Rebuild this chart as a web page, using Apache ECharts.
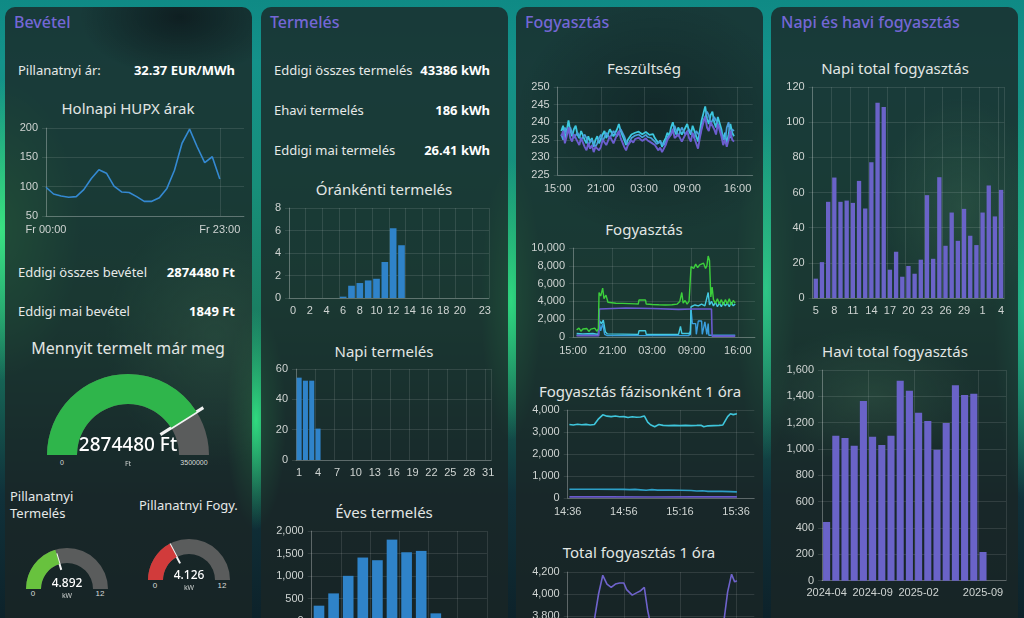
<!DOCTYPE html>
<html>
<head>
<meta charset="UTF-8">
<title>Napelem</title>
<script src="https://cdn.jsdelivr.net/npm/echarts@6/dist/echarts.min.js"></script>
<style>
html, body { margin: 0; width: 1024px; height: 618px; overflow: hidden; }
body {
  position: relative;
  font-family: 'Noto Sans', sans-serif;
  color: #e8ebea;
  background:
    radial-gradient(ellipse 80px 150px at 0px 230px, rgba(60,230,130,0.95), rgba(60,230,130,0) 100%),
    radial-gradient(ellipse 30px 110px at 256px 420px, rgba(50,225,130,0.95), rgba(50,225,130,0) 100%),
    radial-gradient(ellipse 30px 140px at 511px 300px, rgba(50,225,130,0.9), rgba(50,225,130,0) 100%),
    radial-gradient(ellipse 30px 170px at 766px 290px, rgba(50,210,140,0.85), rgba(50,210,140,0) 100%),
    radial-gradient(ellipse 30px 200px at 1024px 300px, rgba(40,200,150,0.8), rgba(40,200,150,0) 100%),
    linear-gradient(180deg, #0f8a85 0%, #14928a 10%, #178f7a 30%, #1a7f63 50%, #155a50 65%, #10313a 80%, #0d222a 100%);
}
.card { position: absolute; top: 7px; width: 247px; height: 640px; border-radius: 10px; background: rgba(26,38,38,0.8); }
#c1 { left: 5px; background:
    radial-gradient(ellipse 100px 60px at 175px 10px, rgba(12,22,26,0.75), rgba(12,22,26,0) 100%),
    radial-gradient(ellipse 110px 130px at 210px 330px, rgba(70,120,90,0.25), rgba(70,120,90,0) 100%),
    rgba(26,38,38,0.8); }
#c2 { left: 261px; }
#c3 { left: 516px; background:
    radial-gradient(ellipse 140px 120px at 140px 110px, rgba(12,22,26,0.5), rgba(12,22,26,0) 100%),
    rgba(26,38,38,0.8); }
#c4 { left: 771px; background:
    radial-gradient(ellipse 80px 110px at 190px 200px, rgba(70,120,90,0.3), rgba(70,120,90,0) 100%),
    radial-gradient(ellipse 110px 70px at 100px 390px, rgba(70,120,90,0.28), rgba(70,120,90,0) 100%),
    rgba(26,38,38,0.8); }
.h { position: absolute; transform: translateY(-50%); font-size: 16px; font-weight: 500; color: #7467d6; white-space: nowrap; }
.l { position: absolute; transform: translateY(-50%); font-size: 13px; color: #e6e9e8; white-space: nowrap; }
.v { position: absolute; transform: translateY(-50%); font-size: 13px; font-weight: 700; color: #ffffff; white-space: nowrap; text-align: right; }
.t { position: absolute; transform: translate(-50%, -50%); font-size: 15px; color: #e2e6e4; white-space: nowrap; }
.g { position: absolute; transform: translate(-50%, -50%); font-size: 8px; color: #d8dcda; white-space: nowrap; font-family: 'Liberation Sans', Arial, sans-serif; }
#chart { position: absolute; left: 0; top: 0; width: 1024px; height: 700px; }
</style>
</head>
<body>
<div class="card" id="c1"></div>
<div class="card" id="c2"></div>
<div class="card" id="c3"></div>
<div class="card" id="c4"></div>

<div class="h" style="left:14px;top:22px">Bevétel</div>
<div class="h" style="left:270px;top:22px">Termelés</div>
<div class="h" style="left:525px;top:22px">Fogyasztás</div>
<div class="h" style="left:781px;top:22px">Napi és havi fogyasztás</div>

<div class="l" style="left:18px;top:70px">Pillanatnyi ár:</div>
<div class="v" style="right:789px;top:70px">32.37 EUR/MWh</div>
<div class="l" style="left:18px;top:272px">Eddigi összes bevétel</div>
<div class="v" style="right:789px;top:272px">2874480 Ft</div>
<div class="l" style="left:18px;top:311px">Eddigi mai bevétel</div>
<div class="v" style="right:789px;top:311px">1849 Ft</div>

<div class="l" style="left:274px;top:70px">Eddigi összes termelés</div>
<div class="v" style="right:534px;top:70px">43386 kWh</div>
<div class="l" style="left:274px;top:110px">Ehavi termelés</div>
<div class="v" style="right:534px;top:110px">186 kWh</div>
<div class="l" style="left:274px;top:150px">Eddigi mai termelés</div>
<div class="v" style="right:534px;top:150px">26.41 kWh</div>

<div class="t" style="left:128px;top:108px">Holnapi HUPX árak</div>
<div class="t" style="left:128px;top:348px;font-size:16px">Mennyit termelt már meg</div>
<div class="l" style="left:10px;top:505px;line-height:17px">Pillanatnyi<br>Termelés</div>
<div class="l" style="left:139px;top:505px">Pillanatnyi Fogy.</div>

<div class="g" style="left:62px;top:462px;font-size:7px">0</div>
<div class="g" id="goalLbl" style="left:194px;top:462px;font-size:7px"></div>
<div class="g" style="left:33px;top:593px">0</div>
<div class="g pmax" style="left:100px;top:593px"></div>
<div class="g" style="left:155px;top:585px">0</div>
<div class="g pmax" style="left:222px;top:585px"></div>

<div class="t" style="left:384px;top:189px">Óránkénti termelés</div>
<div class="t" style="left:384px;top:351px">Napi termelés</div>
<div class="t" style="left:384px;top:512px">Éves termelés</div>

<div class="t" style="left:644px;top:68px">Feszültség</div>
<div class="t" style="left:644px;top:229px">Fogyasztás</div>
<div class="t" style="left:640px;top:391px">Fogyasztás fázisonként 1 óra</div>
<div class="t" style="left:639px;top:552px">Total fogyasztás 1 óra</div>

<div class="t" style="left:895px;top:68px">Napi total fogyasztás</div>
<div class="t" style="left:895px;top:351px">Havi total fogyasztás</div>

<div id="chart"></div>

<script>
// ---- Bevétel ----
var hupxHours = [0, 1, 2, 3, 4, 5, 6, 7, 8, 9, 10, 11, 12, 13, 14, 15, 16, 17, 18, 19, 20, 21, 22, 23];
var hupxPrice = [99, 87.5, 84, 82, 83, 95, 114, 129, 123, 101, 91, 90, 83, 75, 75, 81, 97, 128, 174, 198, 168, 141, 151, 113];
var incomeTotal = 2874480;
var incomeGoal = 3500000;
var prodNow = 4.892;
var consNow = 4.126;
var powerMax = 12;

// ---- Termelés ----
var hourCats = ['0', '1', '2', '3', '4', '5', '6', '7', '8', '9', '10', '11', '12', '13', '14', '15', '16', '17', '18', '19', '20', '21', '22', '23'];
var hourProd = [0, 0, 0, 0, 0, 0, 0.12, 1.09, 1.33, 1.56, 1.71, 3.2, 6.2, 4.69];
var dayCats = ['1', '2', '3', '4', '5', '6', '7', '8', '9', '10', '11', '12', '13', '14', '15', '16', '17', '18', '19', '20', '21', '22', '23', '24', '25', '26', '27', '28', '29', '30', '31'];
var dayProd = [54.3, 52.3, 52.3, 20.7];
var monthCats = ['01', '02', '03', '04', '05', '06', '07', '08', '09', '10', '11', '12'];
var monthProd = [346, 618, 1007, 1412, 1353, 1809, 1529, 1559, 176];

// ---- Feszültség (órák 15:00-tól) ----
var vTime = [0.5, 0.75, 1, 1.25, 1.5, 1.75, 2, 2.25, 2.5, 2.75, 3, 3.25, 3.5, 3.75, 4, 4.25, 4.5, 4.75, 5, 5.25, 5.5, 5.75, 6, 6.25, 6.5, 6.75, 7, 7.25, 7.5, 7.75, 8, 8.25, 8.5, 8.75, 9, 9.25, 9.5, 9.75, 10, 10.25, 10.5, 10.75, 11, 11.25, 11.5, 11.75, 12, 12.25, 12.5, 12.75, 13, 13.25, 13.5, 13.75, 14, 14.25, 14.5, 14.75, 15, 15.25, 15.5, 15.75, 16, 16.25, 16.5, 16.75, 17, 17.25, 17.5, 17.75, 18, 18.25, 18.5, 18.75, 19, 19.25, 19.5, 19.75, 20, 20.25, 20.5, 20.75, 21, 21.25, 21.5, 21.75, 22, 22.25, 22.5, 22.75, 23, 23.25, 23.5, 23.75, 24, 24.25, 24.5];
var voltA = [237.5, 239, 235, 237.5, 240.5, 237.5, 236, 238, 239, 236.5, 235.5, 237.5, 237, 235, 234, 236, 234.5, 235.5, 233, 235, 236, 234, 234.5, 236.5, 237.5, 235.5, 236, 238, 238.5, 236, 236.5, 238, 239.5, 237.5, 237, 235, 233.5, 235, 235.5, 236.5, 236, 237, 236.5, 237.3, 237, 236.6, 236.5, 237.2, 236.8, 236.4, 236.2, 236.6, 235.5, 235, 234, 234.8, 233, 234.5, 235.5, 237, 236, 238.5, 240, 237.5, 236.5, 238.5, 239, 236.5, 237, 238.5, 239.5, 237.5, 236.5, 239, 238.5, 236, 234.5, 237.5, 240.5, 242.5, 244.5, 241, 239.5, 242, 243, 240, 238.5, 241.5, 242, 238, 235, 237, 234, 236.5, 239.5, 237, 236];
var voltB = [236.5, 235, 238.5, 236.5, 236, 238.5, 238, 235.5, 235, 237, 237.5, 235, 234.5, 236.5, 235.5, 233.5, 233, 235, 234.5, 233, 234, 235.5, 236.5, 234.5, 235, 237, 237.5, 235.5, 235.5, 237.5, 238, 236, 236, 238, 238.5, 236, 234.5, 233.5, 234.5, 235.5, 235.5, 236.2, 235.8, 236.5, 236.2, 235.7, 236, 236.4, 235.8, 235.3, 235.5, 235, 234.5, 233.8, 233.5, 234.5, 234, 233.5, 234.5, 235.8, 235.5, 236.5, 237, 239, 238.5, 236, 236.5, 238.5, 238.5, 236.5, 236, 238, 238.5, 236.5, 235.5, 237.5, 237, 236, 238.5, 240.5, 241.5, 243, 242, 239.5, 239.5, 241.5, 242, 239.5, 238.5, 237, 236.5, 234.5, 238.5, 240, 235.5, 238, 237.5];
var voltC = [236, 237.5, 234, 236, 238.5, 235.5, 234.5, 236.5, 237, 234.5, 233.5, 235.5, 235, 233, 232, 234, 232.5, 233.5, 231.5, 233, 233.5, 232, 233, 235, 235.5, 233.5, 234, 236, 236.5, 234, 234.5, 236.5, 237.5, 235.5, 235, 233, 232, 233.5, 233.5, 234.8, 234.2, 235.2, 234.8, 235.6, 235.2, 234.7, 235, 235.4, 234.8, 234.4, 234.2, 234.6, 233.5, 233, 232, 232.8, 231.5, 232.5, 233.5, 235, 234.5, 236.5, 238, 235.5, 235, 236.5, 237, 234.5, 235, 236.5, 237.5, 235.5, 234.5, 237, 236.5, 234, 232.5, 235.5, 238, 240, 241.5, 238.5, 237.5, 240, 240.5, 238, 236.5, 239.5, 239.5, 236, 233.5, 235, 233, 235, 237.5, 235, 234.5];

// ---- Fogyasztás (W), [óra 15:00-tól, érték] ----
var consTotal = [[0.55, 800], [0.9, 1000], [1.2, 650], [1.5, 900], [1.8, 700], [2.1, 950], [2.4, 620], [2.7, 880], [3.0, 700], [3.3, 1000], [3.6, 650], [3.85, 900], [3.95, 5000], [4.2, 4600], [4.5, 5500], [4.7, 4300], [5.0, 4700], [5.3, 3900], [5.6, 3850], [6.5, 3800], [7.5, 3780], [8.5, 3750], [9.5, 3720], [9.9, 3700], [10.0, 4150], [11.0, 4150], [11.1, 3700], [12, 3650], [13, 3620], [14, 3600], [15, 3620], [15.8, 3700], [16.2, 4000], [16.5, 5000], [16.7, 3800], [17.0, 4100], [17.3, 3700], [17.6, 4000], [17.8, 3800], [17.9, 7900], [18.3, 7700], [18.6, 8200], [18.9, 7800], [19.2, 8100], [19.5, 7900], [19.8, 8300], [20.1, 7700], [20.3, 8000], [20.5, 9100], [20.7, 8600], [20.9, 4500], [21.1, 5600], [21.3, 4200], [21.6, 3800], [21.9, 4300], [22.2, 3700], [22.5, 4200], [22.8, 3600], [23.1, 4200], [23.4, 3700], [23.7, 4300], [24.0, 3600], [24.3, 4100], [24.6, 3800]];
var consL3 = [[0.55, 150], [3.9, 150], [4.0, 3150], [8, 3250], [12, 3200], [16, 3100], [18, 3150], [21.0, 3150], [21.1, 100], [24.6, 100]];
var consL1 = [[0.55, 400], [1.5, 350], [3.0, 400], [3.85, 300], [3.95, 1900], [4.3, 1500], [4.6, 1900], [4.9, 600], [5.2, 350], [9.9, 300], [10.0, 700], [11.0, 700], [11.1, 300], [16.0, 300], [16.3, 1200], [16.5, 400], [17.8, 400], [17.9, 3400], [18.5, 3600], [19.0, 3500], [19.5, 3700], [20.0, 3500], [20.5, 5000], [20.7, 3600], [21.0, 4000], [21.3, 3500], [21.6, 3900], [21.9, 3400], [22.2, 3800], [22.5, 3400], [22.8, 3900], [23.1, 3500], [23.4, 3800], [23.7, 3400], [24.0, 3900], [24.3, 3500], [24.6, 3700]];
var consL2 = [[0.55, 200], [3.85, 200], [3.95, 1800], [4.2, 700], [4.5, 1500], [4.8, 300], [5.2, 150], [17.6, 150], [17.7, 600], [17.8, 200], [17.9, 3100], [18.1, 1500], [18.6, 1500], [18.7, 300], [19.0, 1800], [19.5, 1800], [19.6, 300], [20.0, 1700], [20.3, 300], [20.5, 1500], [20.6, 200], [24.6, 200]];

// ---- Fázisonként 1 óra, [perc 14:36-tól, W] ----
var phaseL1 = [[0.6, 3340], [2, 3320], [3.5, 3350], [5, 3330], [6.5, 3345], [8, 3320], [9.5, 3340], [11, 3600], [12.5, 3780], [14, 3720], [15.5, 3700], [17, 3730], [18.5, 3690], [20, 3700], [21.5, 3660], [23, 3690], [24.5, 3670], [26, 3680], [27.3, 3730], [28.5, 3450], [29.5, 3330], [31, 3240], [32.5, 3340], [34, 3300], [36, 3290], [38, 3300], [40, 3290], [42, 3300], [44, 3290], [46, 3300], [47.5, 3310], [48.5, 3240], [50, 3280], [52, 3290], [54, 3300], [55.3, 3320], [57, 3700], [58, 3830], [59, 3790], [60.3, 3830]];
var phaseL2 = [[0.6, 400], [10, 400], [20, 390], [22, 380], [24, 390], [26, 370], [28, 350], [30, 380], [32, 360], [36, 360], [40, 350], [44, 340], [46, 320], [48, 330], [50, 300], [52, 310], [55, 300], [58, 290], [60.3, 280]];
var phaseL3 = [[0.6, 50], [15, 60], [30, 45], [45, 55], [60.3, 50]];
var hourTotal = [[0.6, 3760], [5, 3750], [9.5, 3765], [11, 4000], [12.5, 4170], [14, 4090], [15.5, 4060], [17, 4090], [18.5, 4100], [20, 4100], [21, 4040], [23, 3990], [24.5, 4010], [26, 4030], [27.3, 4060], [28.5, 3850], [29.5, 3730], [31, 3640], [34, 3700], [40, 3690], [47.5, 3700], [48.5, 3630], [52, 3690], [55.3, 3680], [57, 4020], [58.4, 4180], [59.5, 4110], [60.3, 4120]];

// ---- Napi és havi fogyasztás ----
var dailyCats = ['5', '6', '7', '8', '9', '10', '11', '12', '13', '14', '15', '16', '17', '18', '19', '20', '21', '22', '23', '24', '25', '26', '27', '28', '29', '30', '31', '1', '2', '3', '4'];
var dailyCons = [11.0, 20.4, 54.7, 68.5, 54.7, 55.4, 54.1, 66.6, 50.9, 77.2, 111.1, 108.6, 16.1, 26.3, 12.1, 18.2, 13.8, 21.8, 58.5, 22.3, 68.7, 29.7, 48.6, 32.5, 50.7, 35.4, 30.1, 48.6, 64.0, 46.4, 61.5];
var monthlyCats = ['2024-04', '2024-05', '2024-06', '2024-07', '2024-08', '2024-09', '2024-10', '2024-11', '2024-12', '2025-01', '2025-02', '2025-03', '2025-04', '2025-05', '2025-06', '2025-07', '2025-08', '2025-09'];
var monthlyCons = [446, 1101, 1084, 1025, 1365, 1094, 1031, 1101, 1519, 1443, 1276, 1213, 995, 1198, 1484, 1410, 1420, 218];

document.getElementById('goalLbl').textContent = incomeGoal;
document.querySelectorAll('.pmax').forEach(function (el) { el.textContent = powerMax; });

var BLUE = '#2f83c9';
var VIOLET = '#6a63c8';
var LBL = { color: '#cfd4d2', fontSize: 11, fontFamily: 'Liberation Sans, Arial, sans-serif' };
var GRIDC = 'rgba(255,255,255,0.11)';
var AXC = 'rgba(255,255,255,0.22)';

function pad(n) { return (n < 10 ? '0' : '') + n; }
function comma(v) { return v.toLocaleString('en-US'); }
function from15(v) { return pad((15 + v) % 24) + ':00'; }
function from1436(v) { var t = 14 * 60 + 36 + v; return pad(Math.floor(t / 60)) + ':' + pad(t % 60); }
function zip(xs, ys) { return xs.map(function (x, i) { return [x, ys[i]]; }); }
function every(n) { return function (i) { return i % n === 0; }; }

var grids = [], xAxes = [], yAxes = [], series = [];

function yAx(min, max, step, fmt) {
  return {
    type: 'value', min: min, max: max, interval: step,
    axisLine: { show: true, lineStyle: { color: AXC } },
    axisTick: { show: true, length: 4, lineStyle: { color: GRIDC } },
    axisLabel: Object.assign({ margin: 8, formatter: fmt }, LBL),
    splitLine: { lineStyle: { color: GRIDC } }
  };
}
function catAx(cats, iv, max) {
  var a = {
    type: 'category', data: cats, boundaryGap: true,
    axisLine: { lineStyle: { color: AXC } },
    axisTick: { show: false },
    axisLabel: Object.assign({ margin: 7, interval: iv }, LBL),
    splitLine: { show: true, interval: iv, lineStyle: { color: GRIDC } }
  };
  if (max != null) a.max = max;
  return a;
}
function valX(max, ticks, fmt) {
  return {
    type: 'value', min: 0, max: max,
    axisLine: { lineStyle: { color: AXC } },
    axisTick: { show: false, customValues: ticks },
    axisLabel: Object.assign({ margin: 8, customValues: ticks, formatter: fmt }, LBL),
    splitLine: { show: true, lineStyle: { color: GRIDC } }
  };
}
function addGrid(box, xa, ya) {
  var i = grids.length;
  box.outerBoundsMode = 'none';
  grids.push(box);
  xa.gridIndex = i; ya.gridIndex = i;
  xAxes.push(xa); yAxes.push(ya);
  return i;
}
function line(gi, data, color, w) {
  series.push({ type: 'line', xAxisIndex: gi, yAxisIndex: gi, data: data, showSymbol: false, symbol: 'none',
    lineStyle: { color: color, width: w || 1.5 }, itemStyle: { color: color }, silent: true, clip: true });
}
function bars(gi, data, color, bw) {
  series.push({ type: 'bar', xAxisIndex: gi, yAxisIndex: gi, data: data, barWidth: bw,
    itemStyle: { color: color }, silent: true });
}

// Holnapi HUPX árak
var g = addGrid({ left: 46, top: 128, width: 198, height: 88 },
  valX(26.2, [0, 23], function (v) { return 'Fr ' + pad(v) + ':00'; }),
  yAx(50, 200, 50));
line(g, zip(hupxHours, hupxPrice), '#3489d2', 1.6);

// Óránkénti termelés
g = addGrid({ left: 289, top: 208, width: 200, height: 90 },
  catAx(hourCats, function (i) { return (i % 2 === 0 && i <= 20) || i === 23; }),
  yAx(0, 8, 2));
xAxes[g].splitLine.interval = every(2);
bars(g, hourProd, BLUE, '80%');

// Napi termelés
g = addGrid({ left: 296, top: 369, width: 195.3, height: 91 }, catAx(dayCats, every(3)), yAx(0, 60, 20));
bars(g, dayProd, BLUE, '80%');

// Éves termelés
g = addGrid({ left: 311.7, top: 531, width: 175.2, height: 90.3 }, catAx(monthCats, every(2)), yAx(0, 2000, 500, comma));
bars(g, monthProd, BLUE, '73%');

// Feszültség
g = addGrid({ left: 557.7, top: 87, width: 195, height: 88 }, valX(27.1, [0, 6, 12, 18, 25], from15), yAx(225, 250, 5));
line(g, zip(vTime, voltA), '#3cc8df', 1.8);
line(g, zip(vTime, voltB), '#4a9fdc', 1.7);
line(g, zip(vTime, voltC), '#6c5ecf', 1.9);

// Fogyasztás
g = addGrid({ left: 573, top: 248, width: 182, height: 89 }, valX(27.6, [0, 6, 12, 18, 25], from15), yAx(0, 10000, 2000, comma));
line(g, consL2, '#3a9ede', 1.4);
line(g, consL1, '#43c9e0', 1.4);
line(g, consL3, '#6a5acd', 1.6);
line(g, consTotal, '#3ccf3c', 1.4);

// Fogyasztás fázisonként 1 óra
g = addGrid({ left: 567.7, top: 410, width: 186.6, height: 88 }, valX(66.5, [0, 20, 40, 60], from1436), yAx(0, 4000, 1000, comma));
line(g, phaseL3, '#6a5acd', 1.6);
line(g, phaseL2, '#2d9fc7', 1.6);
line(g, phaseL1, '#3fc6dc', 1.6);

// Total fogyasztás 1 óra
g = addGrid({ left: 567.7, top: 572, width: 186.6, height: 66 }, valX(66.5, [0, 20, 40, 60], from1436), yAx(3600, 4200, 200, comma));
line(g, hourTotal, '#6f63cc', 1.6);

// Napi total fogyasztás
g = addGrid({ left: 812.7, top: 87, width: 191.5, height: 211 }, catAx(dailyCats, every(3)), yAx(0, 120, 20));
bars(g, dailyCons, VIOLET, '70%');

// Havi total fogyasztás
g = addGrid({ left: 822, top: 370, width: 184, height: 210.7 },
  catAx(monthlyCats, function (i) { return i === 0 || i === 5 || i === 10 || i === 17; }, 19),
  yAx(0, 1600, 200, comma));
bars(g, monthlyCons, VIOLET, '77%');

// Gauges
function needle(frac) { return 'path://M0,0L4,0L4,' + frac + 'L0,' + frac + 'ZM0,100L4,100'; }
function gauge(o) {
  series.push({
    type: 'gauge', center: o.center, radius: o.r, startAngle: 180, endAngle: 0,
    min: 0, max: o.max, splitNumber: 1,
    axisLine: { lineStyle: { width: o.w, color: [[1, '#5a5c5c']] } },
    progress: { show: true, width: o.w, itemStyle: { color: o.color } },
    pointer: { icon: needle(o.needle), length: o.len, width: o.nw, itemStyle: { color: '#f2f2f2' } },
    anchor: { show: false },
    axisTick: { show: false },
    splitLine: { show: false },
    axisLabel: { show: false },
    title: { offsetCenter: [0, o.tOff], fontSize: o.tf, color: '#cfd3d1', fontFamily: 'Noto Sans' },
    detail: { offsetCenter: [0, o.dOff], fontSize: o.df, fontWeight: 500, color: '#ffffff', fontFamily: 'Noto Sans', formatter: o.fmt },
    data: [{ value: o.value, name: o.unit }],
    silent: true
  });
}
gauge({ center: [128, 455], r: 81, w: 30, max: incomeGoal, value: incomeTotal, color: '#2fb54b', needle: 57, len: 89, nw: 3,
  tOff: 9, tf: 7, dOff: -9, df: 19, fmt: '{value} Ft', unit: 'Ft' });
gauge({ center: [67, 589], r: 41, w: 15, max: powerMax, value: prodNow, color: '#68c23e', needle: 46, len: 37, nw: 2,
  tOff: 7, tf: 7, dOff: -5, df: 12, fmt: '{value}', unit: 'kW' });
gauge({ center: [189, 580], r: 41, w: 15, max: powerMax, value: consNow, color: '#d13b3b', needle: 54, len: 41, nw: 2,
  tOff: 8, tf: 7, dOff: -4, df: 12, fmt: '{value}', unit: 'kW' });

var chart = echarts.init(document.getElementById('chart'));
chart.setOption({
  animation: false,
  grid: grids,
  xAxis: xAxes,
  yAxis: yAxes,
  series: series
});
</script>
</body>
</html>
